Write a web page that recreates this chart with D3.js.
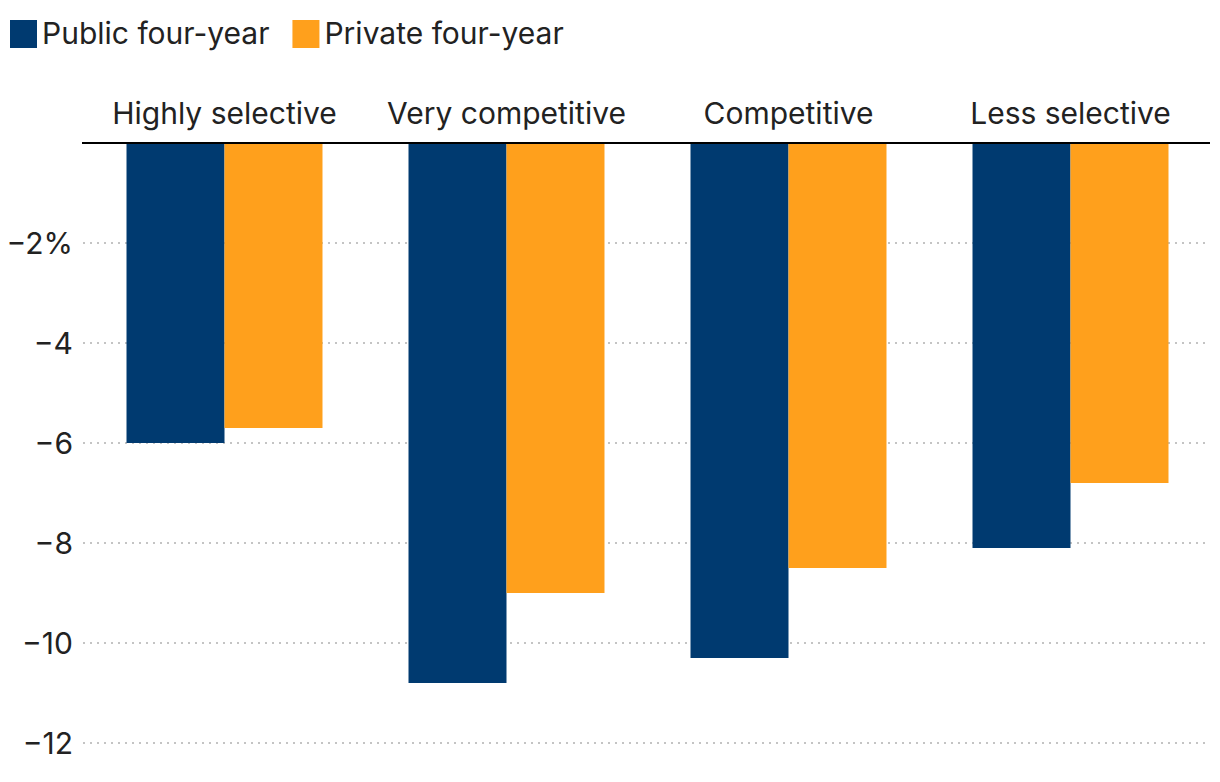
<!DOCTYPE html>
<html><head><meta charset="utf-8">
<script src="https://cdn.jsdelivr.net/npm/d3@7"></script>
<style>body{margin:0;background:#fff;}svg{display:block;font-family:Inter,"Noto Sans",sans-serif;}</style>
</head><body>
<svg id="chart" width="1220" height="782"></svg>
<script>
const categories = ["Highly selective","Very competitive","Competitive","Less selective"];
const seriesNames = ["Public four-year","Private four-year"];
const publicValues = [-6.0,-10.8,-10.3,-8.1];
const privateValues = [-5.7,-9.0,-8.5,-6.8];
const tickValues = [-2,-4,-6,-8,-10,-12];
const tickLabels = ["−2%","−4","−6","−8","−10","−12"];
const colors = ["#003a70","#ffa01c"];

const svg = d3.select("#chart");
const y = d3.scaleLinear().domain([0,-12]).range([143,743]);
const x0 = d3.scaleBand().domain(categories).range([83.5,1211.5]).paddingInner(0.305).paddingOuter(0.1525);
const x1 = d3.scaleBand().domain(seriesNames).range([0,x0.bandwidth()]);

// gridlines
svg.append("g").selectAll("line").data(tickValues).join("line")
  .attr("x1",83).attr("x2",1210).attr("y1",d=>y(d)).attr("y2",d=>y(d))
  .attr("stroke","#c4c4c4").attr("stroke-width",2).attr("stroke-dasharray","2,5");

// tick labels
svg.append("g").selectAll("text").data(tickValues).join("text")
  .attr("x",73).attr("y",d=>y(d)+11).attr("text-anchor","end")
  .attr("font-size",30).attr("fill","#222").text((d,i)=>tickLabels[i]);

const data = categories.map((c,i)=>({cat:c, vals:[publicValues[i],privateValues[i]]}));
const g = svg.append("g").selectAll("g").data(data).join("g")
  .attr("transform",d=>`translate(${x0(d.cat)},0)`);
g.selectAll("rect").data(d=>d.vals.map((v,j)=>({name:seriesNames[j],v,j}))).join("rect")
  .attr("x",d=>x1(d.name)).attr("width",x1.bandwidth())
  .attr("y",y(0)).attr("height",d=>y(d.v)-y(0))
  .attr("fill",d=>colors[d.j]);

// category labels
svg.append("g").selectAll("text").data(categories).join("text")
  .attr("x",d=>x0(d)+x0.bandwidth()/2).attr("y",124).attr("text-anchor","middle")
  .attr("font-size",30).attr("fill","#222").text(d=>d);

// zero axis line
svg.append("line").attr("x1",82).attr("x2",1210).attr("y1",y(0)).attr("y2",y(0))
  .attr("stroke","#000").attr("stroke-width",2);

// legend
const leg = svg.append("g");
let lx = 10;
seriesNames.forEach((name,i)=>{
  leg.append("rect").attr("x",lx).attr("y",20).attr("width",27).attr("height",28).attr("fill",colors[i]);
  const t = leg.append("text").attr("x",lx+32).attr("y",44).attr("font-size",30).attr("fill","#222").text(name);
  lx = lx + 32 + t.node().getComputedTextLength() + 23;
});
</script>
</body></html>
